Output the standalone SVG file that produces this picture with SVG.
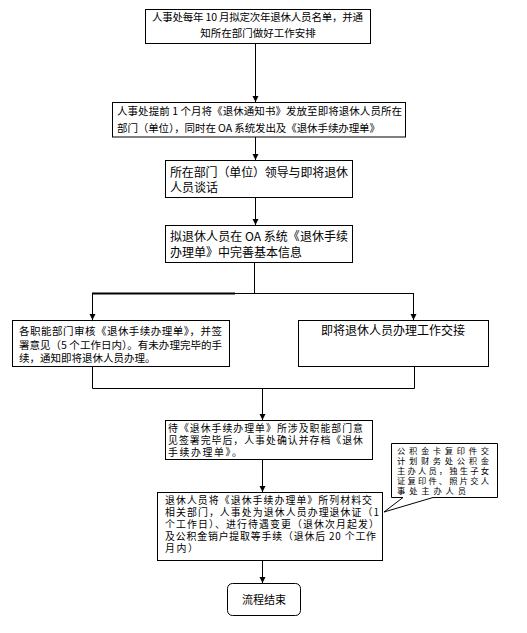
<svg xmlns="http://www.w3.org/2000/svg" width="527" height="633" viewBox="0 0 527 633">
<defs>
<marker id="arr" markerUnits="userSpaceOnUse" markerWidth="7" markerHeight="7" refX="6" refY="3.5" orient="auto">
<path d="M0,0.5 L6,3.5 L0,6.5 Z" fill="#000"/>
</marker>
</defs>
<style>
.box{fill:#fff;stroke:#000;stroke-width:1}
.ln{fill:none;stroke:#000;stroke-width:1}
.t{font-family:"Noto Sans CJK SC","Noto Sans",sans-serif;fill:#000}
.s{font-size:10.5px}
.r{font-size:9.9px}
.m{font-size:12px}
.c{font-size:8.3px}
</style>
<rect width="527" height="633" fill="#fff"/>
<g id="connectors">
<line class="ln" x1="255.5" y1="43" x2="255.5" y2="102" marker-end="url(#arr)"/>
<line class="ln" x1="255.5" y1="137" x2="255.5" y2="160" marker-end="url(#arr)"/>
<line class="ln" x1="255.5" y1="197" x2="255.5" y2="225" marker-end="url(#arr)"/>
<line class="ln" x1="254.5" y1="262" x2="254.5" y2="293"/>
<line class="ln" x1="92" y1="293.5" x2="414" y2="293.5"/>
<line x1="92" y1="293.5" x2="235" y2="293.5" stroke="#000" stroke-width="2"/>
<line class="ln" x1="92.5" y1="293" x2="92.5" y2="320" marker-end="url(#arr)"/>
<line class="ln" x1="413.5" y1="293" x2="413.5" y2="320" marker-end="url(#arr)"/>
<polyline class="ln" points="92.5,366 92.5,388.5 414.5,388.5 414.5,366"/>
<line class="ln" x1="262.5" y1="388" x2="262.5" y2="420" marker-end="url(#arr)"/>
<line class="ln" x1="262.5" y1="460" x2="262.5" y2="492" marker-end="url(#arr)"/>
<line class="ln" x1="262.5" y1="560" x2="262.5" y2="583" marker-end="url(#arr)"/>
</g>
<g id="n1">
<rect class="box" x="145.5" y="9.5" width="225" height="34"/>
<text class="t s" x="152" y="20.5" textLength="211" lengthAdjust="spacing">人事处每年 10 月拟定次年退休人员名单，并通</text>
<text class="t s" x="258" y="37" text-anchor="middle">知所在部门做好工作安排</text>
</g>
<g id="n2">
<rect class="box" x="112.5" y="102.5" width="293" height="34.5"/>
<text class="t s" x="117" y="115" textLength="285" lengthAdjust="spacing">人事处提前 1 个月将《退休通知书》发放至即将退休人员所在</text>
<text class="t s" x="117" y="132" textLength="263" lengthAdjust="spacing">部门（单位），同时在 OA 系统发出及《退休手续办理单》</text>
</g>
<g id="n3">
<rect class="box" x="165.5" y="160.5" width="187" height="37"/>
<text class="t m" x="170" y="177" textLength="178" lengthAdjust="spacing">所在部门（单位）领导与即将退休</text>
<text class="t m" x="170" y="192">人员谈话</text>
</g>
<g id="n4">
<rect class="box" x="165.5" y="225.5" width="187" height="37"/>
<text class="t m" x="170" y="241" textLength="178" lengthAdjust="spacing">拟退休人员在 OA 系统《退休手续</text>
<text class="t m" x="170" y="257">办理单》中完善基本信息</text>
</g>
<g id="n5">
<rect class="box" x="12.5" y="320.5" width="217" height="46"/>
<text class="t s" x="19" y="335" textLength="203" lengthAdjust="spacing">各职能部门审核《退休手续办理单》，并签</text>
<text class="t s" x="19" y="349" textLength="203" lengthAdjust="spacing">署意见（5 个工作日内）。有未办理完毕的手</text>
<text class="t s" x="19" y="362">续，通知即将退休人员办理。</text>
</g>
<g id="n6">
<rect class="box" x="298.5" y="320.5" width="190" height="46"/>
<text class="t m" x="393" y="335" text-anchor="middle">即将退休人员办理工作交接</text>
</g>
<g id="n7">
<rect class="box" x="165.5" y="420.5" width="207" height="39"/>
<text class="t r" x="168" y="432" textLength="195" lengthAdjust="spacing">待《退休手续办理单》所涉及职能部门意</text>
<text class="t r" x="168" y="444" textLength="195" lengthAdjust="spacing">见签署完毕后，人事处确认并存档《退休</text>
<text class="t r" x="168" y="456" textLength="74" lengthAdjust="spacing">手续办理单》。</text>
</g>
<g id="n8">
<rect class="box" x="157.5" y="492.5" width="225" height="68"/>
<text class="t r" x="165" y="503.5" textLength="207" lengthAdjust="spacing">退休人员将《退休手续办理单》所列材料交</text>
<text class="t r" x="165" y="515.5" textLength="214" lengthAdjust="spacing">相关部门，人事处为退休人员办理退休证（1</text>
<text class="t r" x="165" y="527.5" textLength="214" lengthAdjust="spacing">个工作日）、进行待遇变更（退休次月起发）</text>
<text class="t r" x="165" y="539.5" textLength="211" lengthAdjust="spacing">及公积金销户提取等手续（退休后 20 个工作</text>
<text class="t r" x="165" y="551.5" textLength="33" lengthAdjust="spacing">月内）</text>
</g>
<g id="n9">
<rect class="box" x="227.5" y="583.5" width="73" height="32" rx="5"/>
<text class="t" font-size="11" x="264" y="603.5" text-anchor="middle">流程结束</text>
</g>
<g id="n10">
<path class="box" d="M391.5,443.5 H497.5 V497.5 H433 L384,512 L403,497.5 H391.5 Z"/>
<text class="t c" x="397" y="453.5" textLength="92" lengthAdjust="spacing">公积金卡复印件交</text>
<text class="t c" x="397" y="463.5" textLength="92" lengthAdjust="spacing">计划财务处公积金</text>
<text class="t c" x="397" y="473.5" textLength="92" lengthAdjust="spacing">主办人员，独生子女</text>
<text class="t c" x="397" y="483.5" textLength="92" lengthAdjust="spacing">证复印件、照片交人</text>
<text class="t c" x="397" y="493.5" textLength="69" lengthAdjust="spacing">事处主办人员</text>
</g>
</svg>
